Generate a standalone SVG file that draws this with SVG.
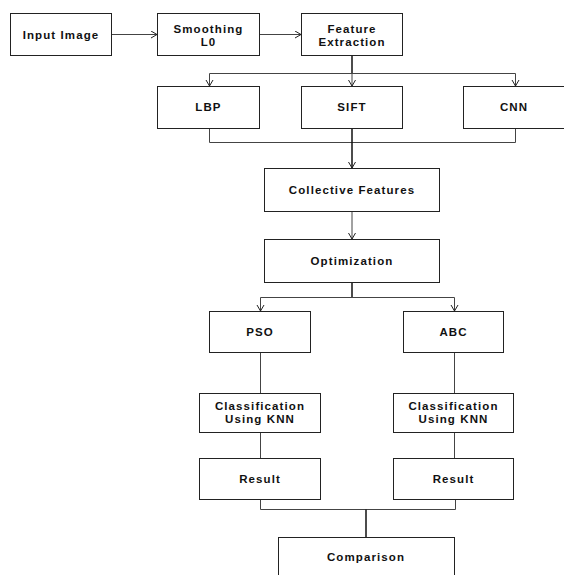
<svg xmlns="http://www.w3.org/2000/svg" width="564" height="575" viewBox="0 0 564 575">
<defs>
<marker id="ah" markerWidth="10" markerHeight="10" refX="7" refY="4" orient="auto" markerUnits="userSpaceOnUse">
<path d="M1,0.5 L7,4 L1,7.5" fill="none" stroke="#222" stroke-width="1"/>
</marker>
<style>
.box{fill:#fff;stroke:#222;stroke-width:1}
.t{font-family:"Liberation Sans",Arial,sans-serif;font-weight:bold;font-size:11.5px;letter-spacing:1.1px;fill:#111;text-anchor:middle}
.c{fill:none;stroke:#444;stroke-width:1}
.k{fill:none;stroke:#111;stroke-width:1.5}
</style>
</defs>
<rect width="564" height="575" fill="#fff"/>
<g id="connectors">
<line class="c" x1="112" y1="34.5" x2="157" y2="34.5" marker-end="url(#ah)"/>
<line class="c" x1="260" y1="34.5" x2="301" y2="34.5" marker-end="url(#ah)"/>
<line class="k" x1="352" y1="56" x2="352" y2="73.5"/>
<line class="c" x1="209.5" y1="73.5" x2="515.5" y2="73.5"/>
<line class="c" x1="209.5" y1="73.5" x2="209.5" y2="86" marker-end="url(#ah)"/>
<line class="c" x1="352" y1="73.5" x2="352" y2="86" marker-end="url(#ah)"/>
<line class="c" x1="515.5" y1="73.5" x2="515.5" y2="86" marker-end="url(#ah)"/>
<polyline class="c" points="209.5,129 209.5,142.5 515.5,142.5 515.5,129"/>
<line class="k" x1="352" y1="129" x2="352" y2="168" marker-end="url(#ah)"/>
<line class="c" x1="352" y1="212" x2="352" y2="239" marker-end="url(#ah)"/>
<line class="k" x1="352" y1="283" x2="352" y2="297.5"/>
<line class="c" x1="260.5" y1="297.5" x2="454.5" y2="297.5"/>
<line class="c" x1="260.5" y1="297.5" x2="260.5" y2="311" marker-end="url(#ah)"/>
<line class="c" x1="454.5" y1="297.5" x2="454.5" y2="311" marker-end="url(#ah)"/>
<line class="c" x1="260.5" y1="353" x2="260.5" y2="393"/>
<line class="c" x1="454.5" y1="353" x2="454.5" y2="393"/>
<line class="c" x1="260.5" y1="433" x2="260.5" y2="458"/>
<line class="c" x1="454.5" y1="433" x2="454.5" y2="458"/>
<polyline class="c" points="260.5,500 260.5,509.5 455.5,509.5 455.5,500"/>
<line class="k" x1="366" y1="509.5" x2="366" y2="537"/>
</g>
<g id="input"><rect class="box" x="10.5" y="13.5" width="101" height="42"/><text class="t" x="61" y="38.5">Input Image</text></g>
<g id="smoothing"><rect class="box" x="157.5" y="13.5" width="102" height="42"/><text class="t" x="208.5" y="33">Smoothing</text><text class="t" x="208.5" y="46">L0</text></g>
<g id="feature"><rect class="box" x="301.5" y="13.5" width="101" height="42"/><text class="t" x="352" y="33">Feature</text><text class="t" x="352" y="46">Extraction</text></g>
<g id="lbp"><rect class="box" x="157.5" y="86.5" width="102" height="42"/><text class="t" x="208.5" y="111">LBP</text></g>
<g id="sift"><rect class="box" x="301.5" y="86.5" width="101" height="42"/><text class="t" x="352" y="111">SIFT</text></g>
<g id="cnn"><rect class="box" x="463.5" y="86.5" width="102" height="42"/><text class="t" x="514" y="111">CNN</text></g>
<g id="collective"><rect class="box" x="264.5" y="168.5" width="175" height="43"/><text class="t" x="352" y="194">Collective Features</text></g>
<g id="optimization"><rect class="box" x="264.5" y="239.5" width="175" height="43"/><text class="t" x="352" y="265">Optimization</text></g>
<g id="pso"><rect class="box" x="209.5" y="311.5" width="101" height="41"/><text class="t" x="260" y="336">PSO</text></g>
<g id="abc"><rect class="box" x="403.5" y="311.5" width="100" height="41"/><text class="t" x="453.5" y="336">ABC</text></g>
<g id="class1"><rect class="box" x="199.5" y="393.5" width="121" height="39"/><text class="t" x="260" y="410">Classification</text><text class="t" x="260" y="423">Using KNN</text></g>
<g id="class2"><rect class="box" x="393.5" y="393.5" width="120" height="39"/><text class="t" x="453.5" y="410">Classification</text><text class="t" x="453.5" y="423">Using KNN</text></g>
<g id="result1"><rect class="box" x="199.5" y="458.5" width="121" height="41"/><text class="t" x="260" y="483">Result</text></g>
<g id="result2"><rect class="box" x="393.5" y="458.5" width="120" height="41"/><text class="t" x="453.5" y="483">Result</text></g>
<g id="comparison"><rect class="box" x="278.5" y="537.5" width="176" height="40"/><text class="t" x="366" y="561">Comparison</text></g>
</svg>
